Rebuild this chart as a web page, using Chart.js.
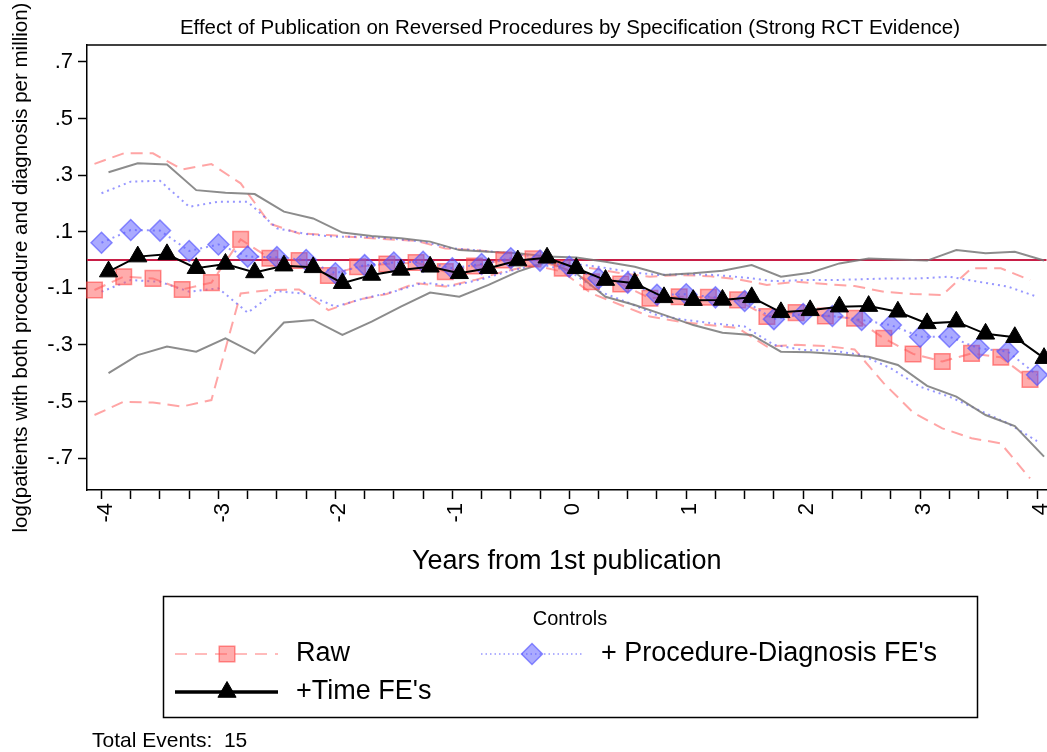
<!DOCTYPE html>
<html>
<head>
<meta charset="utf-8">
<script src="https://cdn.jsdelivr.net/npm/chart.js@4.4.1/dist/chart.umd.min.js"></script>
<style>
  html, body { margin: 0; padding: 0; background: #fff; overflow: hidden; }
  #wrap { width: 1047px; height: 752px; position: relative; overflow: hidden; }
  /* a little wider than the page: the plot runs off the right edge */
  #plot { width: 1059px; height: 752px; position: absolute; left: 0; top: 0; }
</style>
</head>
<body>
<div id="wrap"><div id="plot"><canvas id="reversals"></canvas></div></div>
<script>
// event time in years from 1st publication (quarterly)
var quarters = [-4, -3.75, -3.5, -3.25, -3, -2.75, -2.5, -2.25, -2, -1.75, -1.5, -1.25, -1, -0.75, -0.5, -0.25,
  0, 0.25, 0.5, 0.75, 1, 1.25, 1.5, 1.75, 2, 2.25, 2.5, 2.75, 3, 3.25, 3.5, 3.75, 4];

var xLabels = [-4, -3, -2, -1, 0, 1, 2, 3, 4];
var yTicks = [-0.7, -0.5, -0.3, -0.1, 0.1, 0.3, 0.5, 0.7];

// Raw
var rawEst = [-0.106, -0.059, -0.065, -0.104, -0.080, 0.073, 0.006, -0.002, -0.055, -0.024, -0.014, -0.009, -0.041, -0.021, 0.000, 0.004,
  -0.029, -0.077, -0.085, -0.135, -0.130, -0.132, -0.141, -0.200, -0.186, -0.198, -0.206, -0.277, -0.332, -0.359, -0.330, -0.344, -0.422];
var rawHi = [0.340, 0.377, 0.377, 0.320, 0.339, 0.271, 0.128, 0.094, 0.088, 0.080, 0.073, 0.068, 0.041, 0.035, 0.024, 0.012,
  -0.018, -0.029, -0.047, -0.059, -0.053, -0.057, -0.068, -0.088, -0.077, -0.085, -0.092, -0.112, -0.120, -0.124, -0.029, -0.029, -0.071];
var rawLo = [-0.548, -0.501, -0.504, -0.518, -0.495, -0.118, -0.106, -0.104, -0.177, -0.141, -0.120, -0.082, -0.094, -0.071, -0.041, -0.018,
  -0.041, -0.118, -0.159, -0.200, -0.218, -0.230, -0.240, -0.306, -0.300, -0.304, -0.316, -0.436, -0.539, -0.595, -0.630, -0.648, -0.772];

// + Procedure-Diagnosis FE's
var feEst = [0.061, 0.106, 0.104, 0.032, 0.055, 0.012, 0.010, 0.000, -0.047, -0.018, -0.009, -0.006, -0.029, -0.014, 0.006, -0.002,
  -0.024, -0.065, -0.080, -0.123, -0.121, -0.132, -0.145, -0.209, -0.191, -0.198, -0.212, -0.230, -0.271, -0.271, -0.312, -0.324, -0.406];
var feHi = [0.236, 0.277, 0.280, 0.188, 0.206, 0.206, 0.112, 0.092, 0.082, 0.082, 0.075, 0.065, 0.041, 0.033, 0.024, 0.009,
  -0.012, -0.024, -0.041, -0.053, -0.050, -0.053, -0.062, -0.075, -0.071, -0.071, -0.068, -0.065, -0.065, -0.059, -0.077, -0.094, -0.130];
var feLo = [-0.112, -0.071, -0.077, -0.112, -0.100, -0.186, -0.110, -0.120, -0.165, -0.135, -0.112, -0.080, -0.092, -0.068, -0.038, -0.015,
  -0.038, -0.110, -0.150, -0.195, -0.212, -0.225, -0.235, -0.300, -0.318, -0.320, -0.336, -0.383, -0.448, -0.483, -0.530, -0.577, -0.640];

// +Time FE's
var timeEst = [-0.041, 0.012, 0.020, -0.029, -0.014, -0.044, -0.020, -0.026, -0.082, -0.053, -0.035, -0.024, -0.047, -0.029, -0.002, 0.008,
  -0.029, -0.071, -0.082, -0.132, -0.142, -0.141, -0.132, -0.185, -0.178, -0.165, -0.163, -0.183, -0.224, -0.218, -0.261, -0.273, -0.347];
var timeHi = [0.310, 0.342, 0.338, 0.247, 0.238, 0.233, 0.171, 0.147, 0.097, 0.085, 0.077, 0.065, 0.035, 0.029, 0.024, 0.012,
  0.009, -0.006, -0.024, -0.053, -0.047, -0.038, -0.018, -0.059, -0.045, -0.012, 0.005, 0.002, -0.002, 0.035, 0.024, 0.029, -0.002];
var timeLo = [-0.400, -0.336, -0.306, -0.324, -0.277, -0.330, -0.221, -0.212, -0.265, -0.218, -0.165, -0.115, -0.130, -0.088, -0.041, -0.006,
  -0.047, -0.130, -0.159, -0.194, -0.230, -0.257, -0.265, -0.324, -0.326, -0.333, -0.342, -0.371, -0.445, -0.483, -0.548, -0.587, -0.695];

var totalEvents = 15;

// series are dodged sideways so the markers don't sit on top of each other
var dodge = 0.06;
function pts(vals, shift) {
  return quarters.map(function (q, i) { return { x: q + shift, y: vals[i] }; });
}

var FONT = '"Liberation Sans", Arial, Helvetica, sans-serif';
Chart.defaults.font.family = FONT;
Chart.defaults.color = '#000';

var RED_LINE = 'rgba(255, 105, 105, 0.6)';
var BLUE_LINE = 'rgba(95, 95, 255, 0.65)';
var GRAY_LINE = 'rgba(120, 120, 120, 0.85)';

function ciLine(label, vals, shift, color, dash) {
  return {
    label: label, data: pts(vals, shift), borderColor: color, borderWidth: 2,
    borderDash: dash, pointRadius: 0, tension: 0, order: 5, clip: false
  };
}

var datasets = [
  {
    label: "+Time FE's", data: pts(timeEst, dodge), order: 1,
    borderColor: '#000', borderWidth: 2, tension: 0,
    pointStyle: 'triangle', pointRadius: 10.5, pointBackgroundColor: '#000',
    pointBorderColor: '#000', pointBorderWidth: 1, clip: false, legendLine: 3.5, legendDash: []
  },
  {
    label: "+ Procedure-Diagnosis FE's", data: pts(feEst, 0), order: 2,
    borderColor: BLUE_LINE, borderWidth: 2, borderDash: [2, 4], tension: 0,
    pointStyle: 'rectRot', pointRadius: 10.5, pointBackgroundColor: 'rgba(85, 85, 255, 0.5)',
    pointBorderColor: 'rgba(85, 85, 255, 0.65)', pointBorderWidth: 1.5, clip: false, legendLine: 1.5, legendDash: [1.5, 3]
  },
  {
    label: 'Raw', data: pts(rawEst, -dodge), order: 3,
    borderColor: RED_LINE, borderWidth: 2, borderDash: [12, 7], tension: 0,
    pointStyle: 'rect', pointRadius: 11, pointBackgroundColor: 'rgba(255, 90, 90, 0.5)',
    pointBorderColor: 'rgba(255, 70, 70, 0.6)', pointBorderWidth: 1.5, clip: false, legendLine: 1.5, legendDash: [12, 8]
  },
  ciLine('time hi', timeHi, dodge, GRAY_LINE, []),
  ciLine('time lo', timeLo, dodge, GRAY_LINE, []),
  ciLine('fe hi', feHi, 0, BLUE_LINE, [2, 4]),
  ciLine('fe lo', feLo, 0, BLUE_LINE, [2, 4]),
  ciLine('raw hi', rawHi, -dodge, RED_LINE, [12, 7]),
  ciLine('raw lo', rawLo, -dodge, RED_LINE, [12, 7])
];

function legendSample(ctx, ds, x1, x2, y, mx) {
  ctx.save();
  ctx.strokeStyle = ds.borderColor;
  ctx.lineWidth = ds.legendLine;
  ctx.setLineDash(ds.legendDash);
  ctx.beginPath(); ctx.moveTo(x1, y); ctx.lineTo(x2, y); ctx.stroke();
  ctx.setLineDash([]);
  ctx.fillStyle = ds.pointBackgroundColor;
  ctx.strokeStyle = ds.pointBorderColor;
  ctx.lineWidth = ds.pointBorderWidth;
  Chart.helpers.drawPoint(ctx, { pointStyle: ds.pointStyle, radius: ds.pointRadius, rotation: 0, borderWidth: ds.pointBorderWidth }, mx, y);
  ctx.restore();
}

var decorations = {
  id: 'decorations',
  beforeDatasetsDraw: function (chart) {
    var ctx = chart.ctx, ca = chart.chartArea;
    var y0 = chart.scales.y.getPixelForValue(0);
    ctx.save();
    ctx.strokeStyle = 'rgb(200, 30, 70)';
    ctx.lineWidth = 2;
    ctx.beginPath(); ctx.moveTo(ca.left, y0); ctx.lineTo(ca.right, y0); ctx.stroke();
    ctx.restore();
  },
  afterDraw: function (chart) {
    var ctx = chart.ctx, ca = chart.chartArea;
    var cx = 570;
    ctx.save();
    // top edge of the plot frame
    ctx.strokeStyle = '#000'; ctx.lineWidth = 1.5;
    ctx.beginPath(); ctx.moveTo(ca.left, ca.top); ctx.lineTo(ca.right, ca.top); ctx.stroke();

    ctx.fillStyle = '#000';
    ctx.textBaseline = 'middle';
    ctx.textAlign = 'center';
    ctx.font = '20.5px ' + FONT;
    ctx.fillText('Effect of Publication on Reversed Procedures by Specification (Strong RCT Evidence)', cx, 28);

    // legend box
    var bx = 163.5, by = 596.5, bw = 814, bh = 121;
    ctx.lineWidth = 1.5;
    ctx.strokeRect(bx, by, bw, bh);
    ctx.font = '20px ' + FONT;
    ctx.fillText('Controls', cx, 619);

    var ds = chart.data.datasets;
    legendSample(ctx, ds[2], 175, 278, 654, 227);
    legendSample(ctx, ds[1], 481, 584, 654, 532);
    legendSample(ctx, ds[0], 175, 278, 692, 227);
    ctx.fillStyle = '#000';
    ctx.textAlign = 'left';
    ctx.font = '27px ' + FONT;
    ctx.fillText(ds[2].label, 296, 654);
    ctx.fillText(ds[1].label, 601, 654);
    ctx.fillText(ds[0].label, 296, 692);

    ctx.font = '21px ' + FONT;
    ctx.fillText('Total Events:  ' + totalEvents, 92, 741);
    ctx.restore();
  }
};

new Chart(document.getElementById('reversals'), {
  type: 'line',
  data: { datasets: datasets },
  plugins: [decorations],
  options: {
    responsive: true,
    maintainAspectRatio: false,
    animation: false,
    events: [],
    layout: { padding: { top: 45, left: 0, right: 0, bottom: 152 } },
    plugins: { legend: { display: false }, tooltip: { enabled: false }, title: { display: false } },
    scales: {
      x: {
        type: 'linear',
        min: -4.124,
        max: 4.081,
        afterBuildTicks: function (s) { s.ticks = quarters.map(function (q) { return { value: q }; }); },
        afterFit: function (s) { s.height = 110; s.paddingLeft = 0; s.paddingRight = 0; },
        ticks: {
          autoSkip: false, minRotation: 90, maxRotation: 90, padding: 4, labelOffset: 4,
          font: { size: 22 }, color: '#000',
          callback: function (v) { return xLabels.indexOf(v) >= 0 ? String(v) : ''; }
        },
        grid: { display: true, drawOnChartArea: false, drawTicks: true, tickLength: 9, tickWidth: 1.5, tickColor: '#000' },
        border: { display: true, color: '#000', width: 1.5 },
        title: { display: true, text: 'Years from 1st publication', font: { size: 27 }, color: '#000', padding: { top: 0, bottom: 22 } }
      },
      y: {
        type: 'linear',
        min: -0.813,
        max: 0.760,
        afterBuildTicks: function (s) { s.ticks = yTicks.map(function (v) { return { value: v }; }); },
        afterFit: function (s) { s.width = 87; },
        ticks: {
          padding: 5, font: { size: 22 }, color: '#000',
          callback: function (v) { return v.toFixed(1).replace('0.', '.'); }
        },
        grid: { display: true, drawOnChartArea: false, drawTicks: true, tickLength: 9, tickWidth: 1.5, tickColor: '#000' },
        border: { display: true, color: '#000', width: 1.5 },
        title: {
          display: true, text: 'log(patients with both procedure and diagnosis per million)',
          font: { size: 20.5 }, color: '#000', padding: { top: 9, bottom: 0 }
        }
      }
    }
  }
});
</script>
</body>
</html>
